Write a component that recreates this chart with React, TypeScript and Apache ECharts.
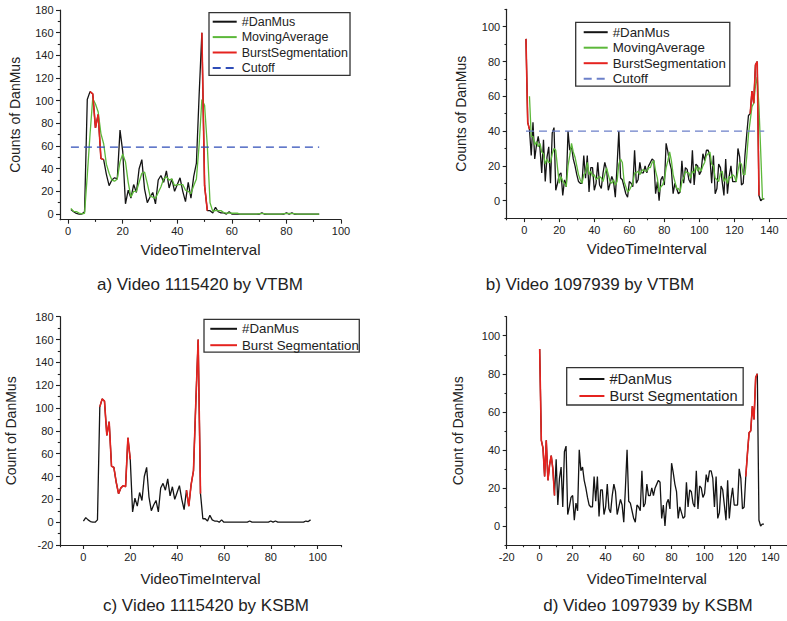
import React, { useEffect, useRef } from "react";
import * as echarts from "echarts";

const FONT = "'Liberation Sans', Arial, Helvetica, sans-serif";

// ---------------- data ----------------
// Video 1115420: counts per interval, index = VideoTimeInterval (0..97)
const danmu1115420 = [
  1, 4, 2, 0.5, 0, 0, 2, 101, 108, 106,
  76, 88, 49, 48, 35, 25, 30, 32, 31, 74,
  55, 9, 21, 14, 26, 19, 40, 48, 22, 10,
  15, 19, 9, 30, 34, 28, 38, 23, 31, 20,
  26, 32, 20, 11, 28, 14, 33, 45, 105, 160,
  25, 3, 3, 1, 6, 2, 1, 1, 0, 2,
  0, 0, 0, 0, 0, 0, 0, 0, 0, 0,
  0, 1, 0, 0, 0, 0, 0, 0, 0, 0,
  1, 0, 1, 0, 0, 0, 0, 0, 0, 0,
  0, 0, 0, 0, 0, 1, 0.5, 2,
];
// moving average for video 1115420 (panel a), x = 1..92
const movingAvgA = [
  5, 2.3, 2.2, 0.8, 0.2, 0.7, 34, 70, 102, 97,
  90, 71, 62, 44, 36, 30, 29, 31, 46, 53,
  46, 28, 15, 20, 20, 28, 36, 37, 27, 16,
  15, 14, 19, 24, 31, 33, 30, 31, 25, 26,
  26, 26, 21, 20, 18, 25, 31, 61, 101, 96,
  60, 10, 2.3, 3.3, 3, 3, 1.3, 0.7, 1, 0.7,
  0.7, 0.7, 0, 0, 0, 0, 0, 0, 0, 0.3,
  0.3, 0.3, 0, 0, 0, 0, 0, 0, 0.3, 0.3,
  0.6, 0.3, 0.3, 0, 0, 0, 0, 0, 0, 0,
  0, 0,
];
const movingAvgAStartX = 1;
const rangeA: [number, number] = [1, 92];
const rangeC: [number, number] = [0, 97];
const burstA: [number, number][] = [[8, 13], [49, 51]];
const burstC: [number, number][] = [[7, 20], [44, 50]];
const cutoffA = [[1, 59], [92, 59]];

// Video 1097939: counts per interval, index 0..136
const danmu1097939 = [
  93, 45, 41, 26, 45, 24, 32, 37, 30, 16,
  35, 11, 25, 31, 10, 39, 42, 6, 10, 15,
  16, 3, 12, 8, 40, 29, 31, 24, 20, 15,
  11, 10, 10, 26, 13, 26, 5, 19, 19, 6,
  10, 22, 9, 7, 16, 22, 18, 6, 10, 14,
  11, 2, 20, 40, 13, 12, 8, 4, 2, 11,
  10, 8, 29, 10, 12, 22, 16, 16, 20, 16,
  20, 22, 24, 23, 4, 11, 0, 12, 14, 9,
  33, 28, 22, 18, 4, 10, 7, 4, 5, 23,
  10, 19, 18, 12, 10, 29, 9, 21, 20, 15,
  17, 27, 23, 29, 29, 25, 10, 26, 4, 7,
  21, 19, 11, 3, 24, 4, 14, 20, 11, 11,
  11, 30, 25, 9, 10, 26, 38, 49, 50, 63,
  56, 78, 80, 3, 0, 1, 1,
];
// moving average for video 1097939 (panel b), starting at index 2
const movingAvgB = [
  60, 37, 37, 32, 34, 31, 33, 28, 27, 21,
  24, 22, 22, 27, 30, 29, 19, 10, 14, 11,
  10, 8, 20, 26, 33, 28, 25, 20, 15, 12,
  10, 15, 16, 22, 15, 17, 14, 15, 12, 13,
  14, 13, 11, 15, 19, 15, 11, 10, 12, 9,
  11, 21, 24, 22, 11, 8, 5, 6, 8, 10,
  16, 16, 17, 15, 17, 18, 17, 17, 19, 19,
  22, 23, 17, 13, 5, 8, 9, 12, 19, 23,
  28, 23, 15, 11, 7, 7, 5, 11, 13, 17,
  16, 16, 13, 17, 16, 20, 17, 19, 17, 20,
  22, 26, 27, 28, 21, 20, 13, 12, 11, 16,
  17, 11, 13, 10, 14, 13, 15, 14, 11, 17,
  22, 21, 15, 15, 25, 38, 46, 54, 56, 66,
  71, 54, 28, 1, 1,
];
const movingAvgBStartIndex = 2;
const xOffsetB = 1; // panel b plots index i at x = i + 1
const xOffsetD = 0;
const rangeB: [number, number] = [0, 136];
const rangeD: [number, number] = [0, 136];
const burstB: [number, number][] = [[0, 2], [128, 133]];
const burstD: [number, number][] = [[0, 9], [125, 132]];
const cutoffB = [[1, 40], [137, 40]];

// ---------------- axes / ticks ----------------
const xMajorA = [0, 20, 40, 60, 80, 100];
const xMinorA = [10, 30, 50, 70, 90];
const yMajorA = [0, 20, 40, 60, 80, 100, 120, 140, 160, 180];
const yMinorA = [10, 30, 50, 70, 90, 110, 130, 150, 170];

const xMajorB = [0, 20, 40, 60, 80, 100, 120, 140];
const xMinorB = [-10, 10, 30, 50, 70, 90, 110, 130, 150];
const yMajorB = [0, 20, 40, 60, 80, 100];
const yMinorB = [-10, 10, 30, 50, 70, 90, 110];

const xMajorC = [0, 20, 40, 60, 80, 100];
const xMinorC = [-10, 10, 30, 50, 70, 90, 110];
const yMajorC = [-20, 0, 20, 40, 60, 80, 100, 120, 140, 160, 180];
const yMinorC = [-10, 10, 30, 50, 70, 90, 110, 130, 150, 170];

const xMajorD = [-20, 0, 20, 40, 60, 80, 100, 120, 140];
const xMinorD = [-10, 10, 30, 50, 70, 90, 110, 130, 150];
const yMajorD = [0, 20, 40, 60, 80, 100];
const yMinorD = [-10, 10, 30, 50, 70, 90, 110];

const captions = [
  "a) Video 1115420 by VTBM",
  "b) Video 1097939 by VTBM",
  "c) Video 1115420 by KSBM",
  "d) Video 1097939 by KSBM",
];

// ---------------- styles / layout ----------------
const C_BLACK = "#141414";
const C_GREEN = "#5cb83a";
const C_RED = "#e5231f";
const C_BLUE_A = "#2f4db8";
const C_BLUE_B = "#6c80c9";
const C_AXIS = "#222";

type Panel = {
  key: string;
  grid: { left: number; top: number; width: number; height: number };
  xr: [number, number];
  yr: [number, number];
  xMaj: number[]; xMin: number[]; yMaj: number[]; yMin: number[];
  yTitle: string; yGap: number; xGap: number;
  caption: { x: number; y: number };
  legend: any;
};

const panels: Panel[] = [
  {
    key: "a",
    grid: { left: 60, top: 10, width: 281, height: 209.7 },
    xr: [-3, 100], yr: [-5, 180],
    xMaj: xMajorA, xMin: xMinorA, yMaj: yMajorA, yMin: yMinorA,
    yTitle: "Counts of DanMus", yGap: 38, xGap: 22.5,
    caption: { x: 200, y: 284 },
    legend: { left: 209, top: 12.7, itemWidth: 24, itemHeight: 13, itemGap: 2.4, fontSize: 12.5, padding: [2.5, 2, 1, 2.7] },
  },
  {
    key: "b",
    grid: { left: 506.7, top: 9.3, width: 280.3, height: 208.8 },
    xr: [-10, 150], yr: [-10, 110],
    xMaj: xMajorB, xMin: xMinorB, yMaj: yMajorB, yMin: yMinorB,
    yTitle: "Counts of DanMus", yGap: 38.7, xGap: 22.4,
    caption: { x: 590, y: 284 },
    legend: { left: 575.7, top: 22.3, itemWidth: 24, itemHeight: 14, itemGap: 2.5, fontSize: 13.3, padding: [3.4, 4, 1, 7] },
  },
  {
    key: "c",
    grid: { left: 60, top: 316.7, width: 281, height: 228.3 },
    xr: [-10, 110], yr: [-20, 180],
    xMaj: xMajorC, xMin: xMinorC, yMaj: yMajorC, yMin: yMinorC,
    yTitle: "Count of DanMus", yGap: 42.3, xGap: 25.8,
    caption: { x: 206, y: 605 },
    legend: { left: 204, top: 319.3, itemWidth: 26.7, itemHeight: 14, itemGap: 3.4, fontSize: 13.3, padding: [3, 0.5, 0.5, 5.3] },
  },
  {
    key: "d",
    grid: { left: 506.7, top: 316.7, width: 283.3, height: 228.3 },
    xr: [-20, 150], yr: [-10, 110],
    xMaj: xMajorD, xMin: xMinorD, yMaj: yMajorD, yMin: yMinorD,
    yTitle: "Count of DanMus", yGap: 41.4, xGap: 25.8,
    caption: { x: 648, y: 605 },
    legend: { left: 566.7, top: 367.7, itemWidth: 25, itemHeight: 15, itemGap: 2, fontSize: 14.6, padding: [3.8, 5.6, 1.5, 11.7] },
  },
];

// ---------------- helpers ----------------
function pointsFrom(values: number[], from: number, to: number, xOffset: number) {
  const out: number[][] = [];
  for (let i = from; i <= to; i++) out.push([i + xOffset, values[i]]);
  return out;
}
function pointsSeq(values: number[], startX: number) {
  return values.map((v, k) => [startX + k, v]);
}

function axes(dim: "x" | "y", gi: number, p: Panel) {
  const isX = dim === "x";
  const [min, max] = isX ? p.xr : p.yr;
  const majors = isX ? p.xMaj : p.yMaj;
  const minors = isX ? p.xMin : p.yMin;
  const pos = isX ? "bottom" : "left";
  const tickStyle = { color: C_AXIS, width: 1.1 };
  const main: any = {
    type: "value", gridIndex: gi, min, max, position: pos,
    name: isX ? "VideoTimeInterval" : p.yTitle,
    nameLocation: "middle",
    nameGap: isX ? p.xGap : p.yGap,
    nameTextStyle: { fontFamily: FONT, fontSize: isX ? 15 : 14, color: "#222" },
    splitLine: { show: false },
    axisLine: { show: true, onZero: false, lineStyle: { color: C_AXIS, width: 1.2 } },
    axisTick: { show: true, length: 4, customValues: majors, lineStyle: tickStyle },
    axisLabel: { show: true, customValues: majors, margin: isX ? 6 : 6.5, fontFamily: FONT, fontSize: 11, color: "#222" },
  };
  const minor: any = {
    type: "value", gridIndex: gi, min, max, position: pos,
    splitLine: { show: false },
    axisLine: { show: false, onZero: false },
    axisTick: { show: true, length: 2.2, customValues: minors, lineStyle: tickStyle },
    axisLabel: { show: false },
  };
  return [main, minor];
}

function lineSeries(name: string, gi: number, data: number[][], color: string, width: number, z: number, dashed = false): any {
  return {
    type: "line", name, data,
    xAxisIndex: gi * 2, yAxisIndex: gi * 2,
    symbol: "none", showSymbol: false, z,
    lineStyle: { color, width, type: dashed ? [8, 5] : "solid" },
    itemStyle: { color },
    emphasis: { disabled: true },
  };
}

function buildOption() {
  const grids: any[] = [];
  const xAxes: any[] = [];
  const yAxes: any[] = [];
  panels.forEach((p, gi) => {
    grids.push({ ...p.grid, containLabel: false });
    xAxes.push(...axes("x", gi, p));
    yAxes.push(...axes("y", gi, p));
  });

  const series: any[] = [];
  // panel a
  series.push(lineSeries("a:#DanMus", 0, pointsFrom(danmu1115420, rangeA[0], rangeA[1], 0), C_BLACK, 1.3, 2));
  series.push(lineSeries("a:MovingAverage", 0, pointsSeq(movingAvgA, movingAvgAStartX), C_GREEN, 1.3, 3));
  burstA.forEach(([s, e]) => series.push(lineSeries("a:BurstSegmentation", 0, pointsFrom(danmu1115420, s, e, 0), C_RED, 1.6, 4)));
  series.push(lineSeries("a:Cutoff", 0, cutoffA, C_BLUE_A, 1.3, 5, true));
  // panel b
  series.push(lineSeries("b:#DanMus", 1, pointsFrom(danmu1097939, rangeB[0], rangeB[1], xOffsetB), C_BLACK, 1.3, 2));
  series.push(lineSeries("b:MovingAverage", 1, pointsSeq(movingAvgB, movingAvgBStartIndex + xOffsetB), C_GREEN, 1.3, 3));
  burstB.forEach(([s, e]) => series.push(lineSeries("b:BurstSegmentation", 1, pointsFrom(danmu1097939, s, e, xOffsetB), C_RED, 1.6, 4)));
  series.push(lineSeries("b:Cutoff", 1, cutoffB, C_BLUE_B, 1.3, 5, true));
  // panel c
  series.push(lineSeries("c:#DanMus", 2, pointsFrom(danmu1115420, rangeC[0], rangeC[1], 0), C_BLACK, 1.3, 2));
  burstC.forEach(([s, e]) => series.push(lineSeries("c:Burst Segmentation", 2, pointsFrom(danmu1115420, s, e, 0), C_RED, 1.6, 4)));
  // panel d
  series.push(lineSeries("d:#DanMus", 3, pointsFrom(danmu1097939, rangeD[0], rangeD[1], xOffsetD), C_BLACK, 1.3, 2));
  burstD.forEach(([s, e]) => series.push(lineSeries("d:Burst Segmentation", 3, pointsFrom(danmu1097939, s, e, xOffsetD), C_RED, 1.6, 4)));

  const legendNames: Record<string, string[]> = {
    a: ["a:#DanMus", "a:MovingAverage", "a:BurstSegmentation", "a:Cutoff"],
    b: ["b:#DanMus", "b:MovingAverage", "b:BurstSegmentation", "b:Cutoff"],
    c: ["c:#DanMus", "c:Burst Segmentation"],
    d: ["d:#DanMus", "d:Burst Segmentation"],
  };
  const legends = panels.map((p) => ({
    show: true,
    orient: "vertical",
    left: p.legend.left,
    top: p.legend.top,
    itemWidth: p.legend.itemWidth,
    itemHeight: p.legend.itemHeight,
    itemGap: p.legend.itemGap,
    padding: p.legend.padding,
    borderColor: "#333",
    borderWidth: 1.3,
    backgroundColor: "#fff",
    selectedMode: false,
    itemStyle: { opacity: 0, borderWidth: 0 },
    data: legendNames[p.key],
    formatter: (n: string) => n.slice(n.indexOf(":") + 1),
    textStyle: { fontFamily: FONT, fontSize: p.legend.fontSize, color: "#222" },
  }));

  const graphic = panels.map((p, i) => ({
    type: "text",
    x: p.caption.x,
    y: p.caption.y,
    style: {
      text: captions[i],
      fontFamily: FONT,
      fontSize: 17,
      fill: "#222",
      textAlign: "center",
      textVerticalAlign: "middle",
    },
  }));

  return {
    animation: false,
    backgroundColor: "#fff",
    grid: grids,
    xAxis: xAxes,
    yAxis: yAxes,
    legend: legends,
    series,
    graphic,
  };
}

export default function App() {
  const ref = useRef<HTMLDivElement>(null);
  useEffect(() => {
    if (!ref.current) return;
    const chart = echarts.init(ref.current, undefined, { renderer: "svg" });
    chart.setOption(buildOption() as any);
    return () => chart.dispose();
  }, []);
  return (
    <div
      ref={ref}
      style={{ position: "absolute", left: 0, top: 0, width: 787, height: 621, background: "#fff" }}
    />
  );
}
